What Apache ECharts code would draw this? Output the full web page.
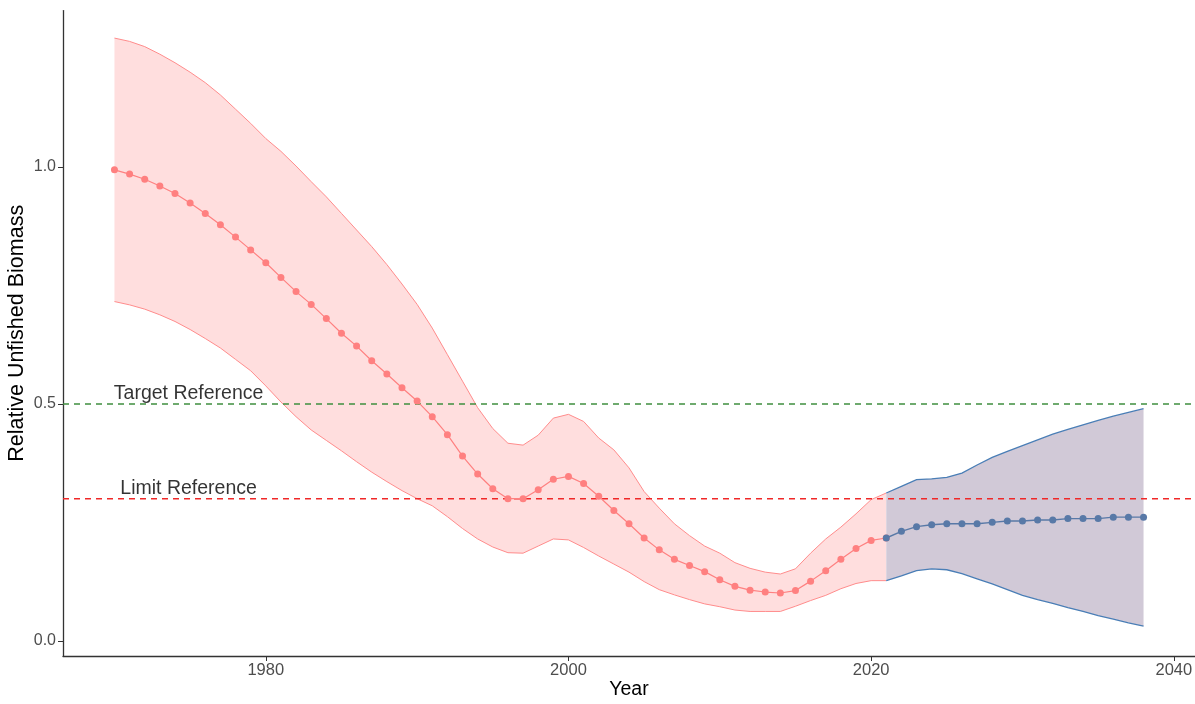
<!DOCTYPE html>
<html><head><meta charset="utf-8">
<script src="https://cdn.jsdelivr.net/npm/echarts@6/dist/echarts.min.js"></script>
<style>html,body{margin:0;padding:0;background:#fff}#c{width:1195px;height:704px}</style>
</head><body><div id="c"></div>
<script>
// ---- data ----
const histYears = [1970,1971,1972,1973,1974,1975,1976,1977,1978,1979,
  1980,1981,1982,1983,1984,1985,1986,1987,1988,1989,
  1990,1991,1992,1993,1994,1995,1996,1997,1998,1999,
  2000,2001,2002,2003,2004,2005,2006,2007,2008,2009,
  2010,2011,2012,2013,2014,2015,2016,2017,2018,2019,
  2020,2021];
const histMean = [0.994,0.985,0.974,0.960,0.944,0.924,0.902,0.878,0.852,0.825,
  0.798,0.767,0.737,0.710,0.680,0.649,0.622,0.591,0.563,0.534,
  0.506,0.473,0.435,0.390,0.352,0.321,0.300,0.300,0.319,0.341,
  0.347,0.332,0.305,0.275,0.247,0.217,0.192,0.172,0.159,0.146,
  0.129,0.115,0.107,0.103,0.101,0.106,0.126,0.148,0.172,0.195,
  0.212,0.217];
const histUpper = [1.272,1.265,1.254,1.238,1.220,1.200,1.178,1.152,1.122,1.092,
  1.060,1.033,1.002,0.969,0.937,0.902,0.867,0.832,0.794,0.753,
  0.710,0.660,0.604,0.548,0.492,0.448,0.417,0.413,0.434,0.470,
  0.478,0.463,0.428,0.403,0.365,0.315,0.280,0.247,0.222,0.200,
  0.185,0.165,0.153,0.145,0.141,0.152,0.185,0.215,0.240,0.268,
  0.298,0.312];
const histLower = [0.716,0.709,0.700,0.688,0.674,0.657,0.638,0.618,0.594,0.570,
  0.538,0.504,0.473,0.445,0.423,0.401,0.378,0.356,0.336,0.317,
  0.300,0.285,0.262,0.237,0.215,0.198,0.186,0.185,0.200,0.215,
  0.213,0.197,0.179,0.162,0.145,0.125,0.108,0.097,0.087,0.078,
  0.072,0.065,0.062,0.062,0.062,0.073,0.085,0.096,0.110,0.121,
  0.127,0.127];
const projYears = [2021,2022,2023,2024,2025,2026,2027,2028,2029,2030,
  2031,2032,2033,2034,2035,2036,2037,2038];
const projMean = [0.217,0.231,0.241,0.245,0.247,0.247,0.247,0.250,0.253,0.253,
  0.255,0.255,0.258,0.258,0.258,0.261,0.261,0.261];
const projUpper = [0.312,0.326,0.340,0.342,0.345,0.354,0.371,0.387,0.400,0.412,
  0.424,0.436,0.446,0.456,0.465,0.474,0.482,0.490];
const projLower = [0.127,0.137,0.148,0.152,0.150,0.142,0.131,0.120,0.108,0.096,
  0.087,0.079,0.070,0.062,0.053,0.046,0.038,0.031];
const refNames = ['Target Reference', 'Limit Reference'];
const refValues = [0.5, 0.3];
const xTicks = [1980, 2000, 2020, 2040];
const yTicks = [0.0, 0.5, 1.0];

// ---- layout / style ----
const X_MIN = 1966.6, X_MAX = 2041.4, Y_MIN = -0.032, Y_MAX = 1.33;
const FONT = '"Liberation Sans", Arial, sans-serif';
const refColors = ['#3F8F3F', '#F02828'];
const labelAnchor = [[1974.9, 0.522], [1974.9, 0.322]];

const pairs = (xs, ys) => xs.map((x, i) => [x, ys[i]]);
const rows = (xs, lo, hi) => xs.map((x, i) => [x, lo[i], hi[i]]);

function bandSeries(xs, lo, hi, fill, edge, edgeW, z) {
  const data = rows(xs, lo, hi);
  return {
    type:'custom', data: data, z: z, silent:true, clip:true,
    encode:{x:0, y:[1,2]},
    renderItem: function (params, api) {
      if (params.dataIndex !== 0) return null;
      const upPts = data.map(r => api.coord([r[0], r[2]]));
      const loPts = data.map(r => api.coord([r[0], r[1]]));
      const poly = upPts.concat(loPts.slice().reverse());
      return {type:'group', children:[
        {type:'polygon', shape:{points:poly}, style:{fill:fill, stroke:null}},
        {type:'polyline', shape:{points:upPts}, style:{stroke:edge, lineWidth:edgeW, fill:null}},
        {type:'polyline', shape:{points:loPts}, style:{stroke:edge, lineWidth:edgeW, fill:null}}
      ]};
    }
  };
}

const series = [];
series.push(bandSeries(histYears, histLower, histUpper, '#FFDEDE', '#FF8C8C', 1, 2));
series.push(bandSeries(projYears, projLower, projUpper, '#D1C9D7', '#4A7EB6', 1.3, 3));
// reference lines + labels
refValues.forEach((v, i) => {
  series.push({type:'line', data:[[X_MIN, v],[X_MAX, v]], symbol:'none',
    lineStyle:{color:refColors[i], width:1.5, type:[6,5]}, z:5, silent:true});
  series.push({type:'scatter', data:[labelAnchor[i]], symbolSize:0, z:6, silent:true,
    label:{show:true, position:'inside', formatter: refNames[i], color:'#000',
      fontFamily:FONT, fontSize:19.5}});
});
// means
series.push({type:'line', data: pairs(histYears, histMean), symbol:'circle', symbolSize:7,
  showAllSymbol:true, lineStyle:{color:'#FF8080', width:1.2}, itemStyle:{color:'#FF8080'}, z:7, silent:true});
series.push({type:'line', data: pairs(projYears, projMean), symbol:'circle', symbolSize:7,
  showAllSymbol:true, lineStyle:{color:'#5879A7', width:1.4}, itemStyle:{color:'#5879A7'}, z:8, silent:true});

const chart = echarts.init(document.getElementById('c'), null, {renderer:'canvas'});
chart.setOption({
  animation:false,
  backgroundColor:'#fff',
  grid:{left:63, right:0, top:10.6, bottom:48, containLabel:false, outerBoundsMode:'none'},
  xAxis:{type:'value', min:X_MIN, max:X_MAX,
    name:'Year', nameLocation:'middle', nameGap:24, nameMoveOverlap:false,
    nameTextStyle:{color:'#000', fontFamily:FONT, fontSize:19.5},
    axisLine:{show:true, onZero:false, lineStyle:{color:'#333', width:1.3}},
    axisTick:{show:true, customValues:xTicks, length:5, lineStyle:{color:'#333'}},
    axisLabel:{customValues:xTicks, color:'#4D4D4D', fontFamily:FONT, fontSize:16.5, margin:6,
      formatter: v => String(v)},
    splitLine:{show:false}},
  yAxis:{type:'value', min:Y_MIN, max:Y_MAX,
    name:'Relative Unfished Biomass', nameLocation:'middle', nameGap:35, nameMoveOverlap:false,
    nameTextStyle:{color:'#000', fontFamily:FONT, fontSize:21.5},
    axisLine:{show:true, onZero:false, lineStyle:{color:'#333', width:1.3}},
    axisTick:{show:true, customValues:yTicks, length:5, lineStyle:{color:'#333'}},
    axisLabel:{customValues:yTicks, color:'#4D4D4D', fontFamily:FONT, fontSize:16, margin:7,
      formatter: v => v.toFixed(1)},
    splitLine:{show:false}},
  series: series
});
</script></body></html>
